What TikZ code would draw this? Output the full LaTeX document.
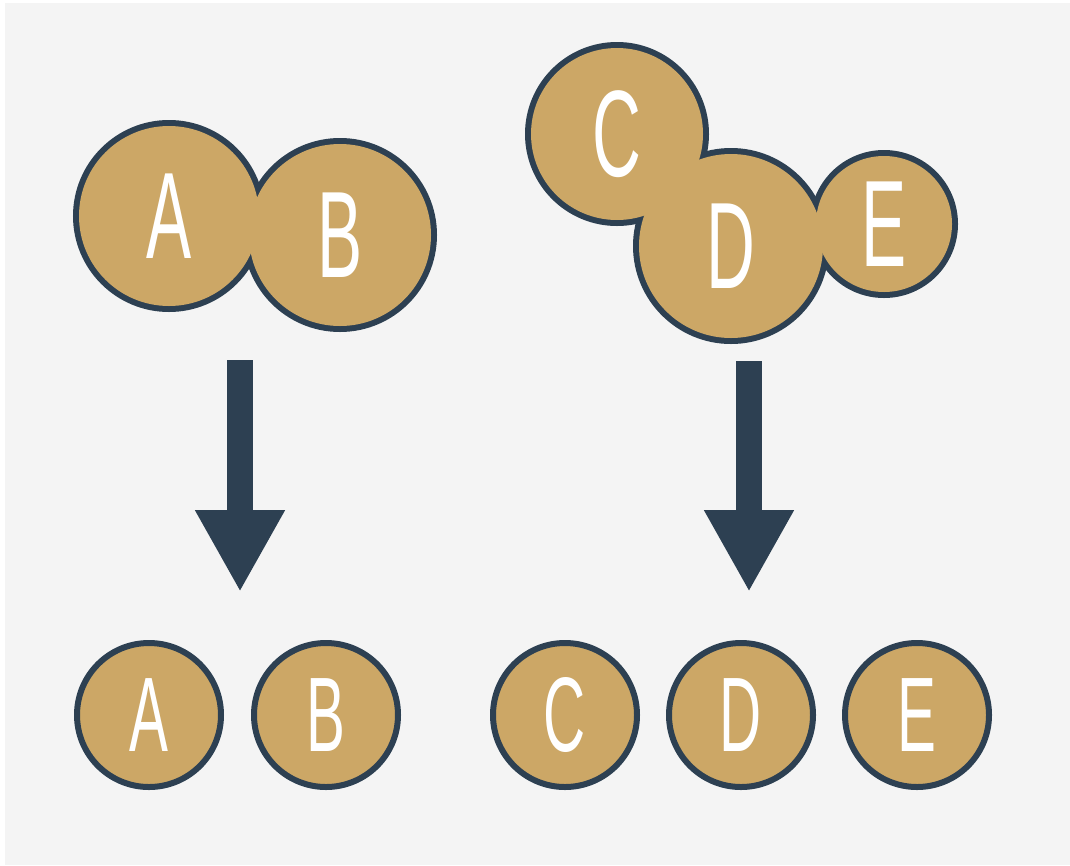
\documentclass[tikz,border=0pt]{standalone}
\usepackage{fontspec}
\setmainfont{Liberation Sans}
\usetikzlibrary{arrows.meta}
\definecolor{navy}{HTML}{2D4052}
\definecolor{tan}{HTML}{CCA766}
\definecolor{bg}{HTML}{F4F4F4}
\newcommand{\bigletter}[1]{\scalebox{0.55}[1]{\fontsize{123}{123}\selectfont #1}}
\newcommand{\smallletter}[1]{\scalebox{0.55}[1]{\fontsize{106}{106}\selectfont #1}}
\begin{document}
\begin{tikzpicture}[x=1pt,y=-1pt,
  blobfill/.style={circle,fill=tan,inner sep=0pt,text=white},
  single/.style={circle,fill=tan,draw=navy,line width=6pt,inner sep=0pt,minimum size=144pt,text=white},
  bigarrow/.style={draw=navy,line width=26pt,-{Triangle[length=82pt,width=84pt]}}]
\useasboundingbox (0,0) rectangle (1070,865);
\fill[white] (0,0) rectangle (1070,865);
\fill[bg] (5,3) rectangle (1070,865);
% outer outlines of merged blobs
\begin{scope}[navy,line width=12pt]
  \draw (169,216) circle (90);
  \draw (340,235) circle (91);
  \draw (617,134) circle (86);
  \draw (731,246) circle (92);
  \draw (884,224) circle (68);
\end{scope}
% fills with letters
\node[blobfill,minimum size=180pt] (A) at (169,216) {\bigletter{A}};
\node[blobfill,minimum size=182pt] (B) at (340,235) {\bigletter{B}};
\node[blobfill,minimum size=172pt] (C) at (617,134) {\bigletter{C}};
\node[blobfill,minimum size=184pt] (D) at (731,246) {\bigletter{D}};
\node[blobfill,minimum size=136pt] (E) at (884,224) {\bigletter{E}};
% arrows
\coordinate (s1) at (240,360);
\coordinate (t1) at (240,592);
\coordinate (s2) at (749,361);
\coordinate (t2) at (749,592);
\draw[bigarrow] (s1) -- (t1);
\draw[bigarrow] (s2) -- (t2);
% bottom singles
\node[single] (a2) at (149,715) {\smallletter{A}};
\node[single] (b2) at (326,715) {\smallletter{B}};
\node[single] (c2) at (565,715) {\smallletter{C}};
\node[single] (d2) at (741,715) {\smallletter{D}};
\node[single] (e2) at (917,715) {\smallletter{E}};
\end{tikzpicture}
\end{document}
